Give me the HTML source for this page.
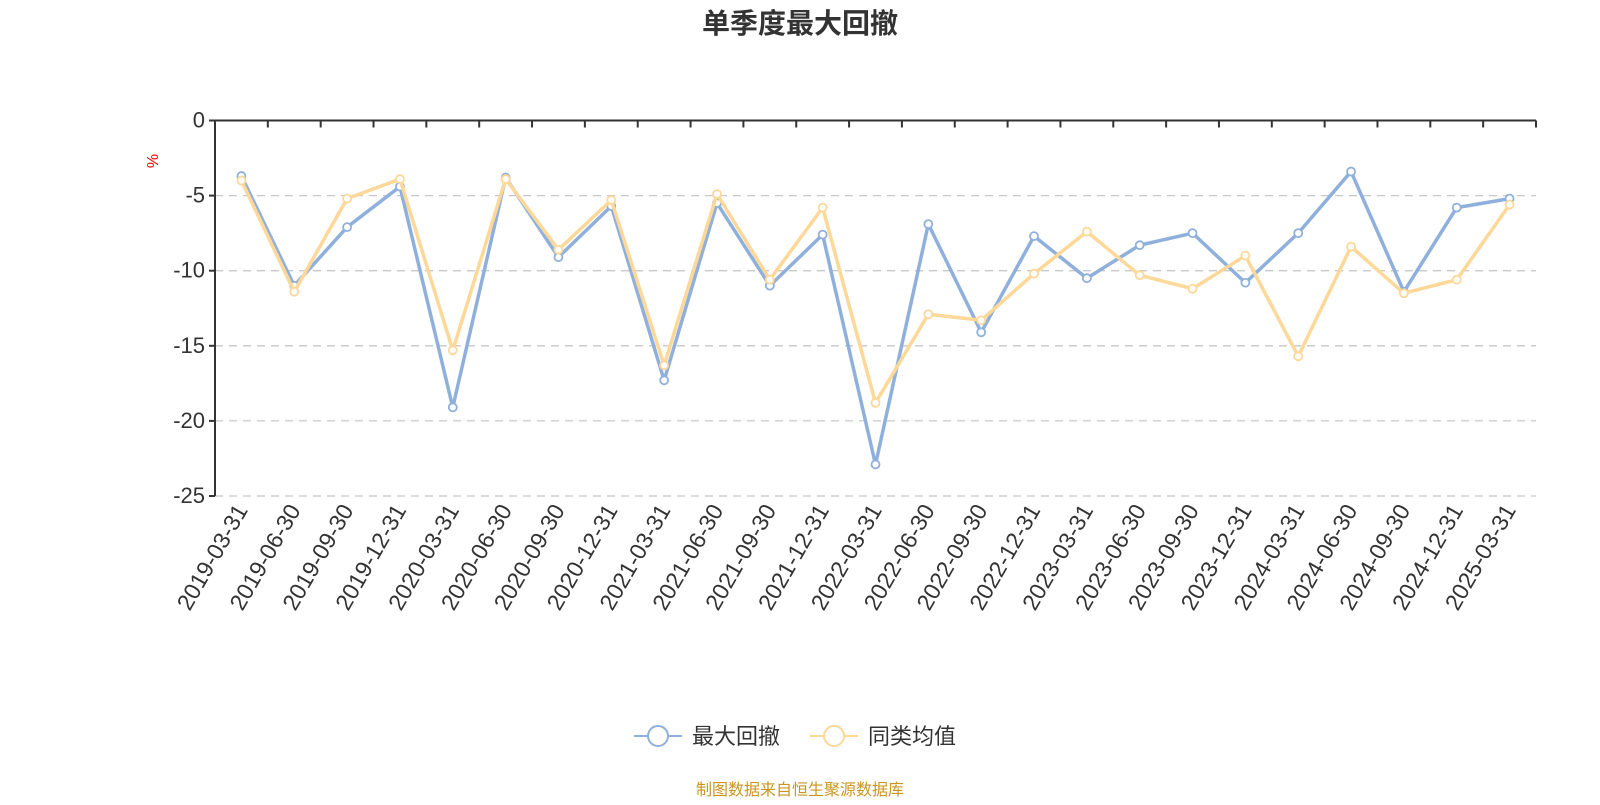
<!DOCTYPE html>
<html><head><meta charset="utf-8"><style>
body{margin:0;background:#fff;width:1600px;height:800px;overflow:hidden;font-family:"Liberation Sans","Noto Sans CJK SC",sans-serif}
</style></head><body>
<svg id="c" width="1600" height="800" font-family="Liberation Sans, Noto Sans CJK SC, sans-serif">
<text x="800" y="33" text-anchor="middle" font-size="28" font-weight="bold" fill="#333">单季度最大回撤</text>
<text transform="translate(158,161) rotate(-90)" text-anchor="middle" font-size="16" fill="#e00">%</text>
<g id="grid"></g><g id="axes"></g><g id="series"></g>
<g>
<g><line x1="634" y1="736" x2="682" y2="736" stroke="#8fb0dc" stroke-width="2"/><circle cx="658" cy="736" r="10" fill="#fff" stroke="#8fb0dc" stroke-width="2"/><text x="692" y="744" font-size="22" fill="#333">最大回撤</text></g>
<g><line x1="810" y1="736" x2="858" y2="736" stroke="#fdd898" stroke-width="2"/><circle cx="834" cy="736" r="10" fill="#fff" stroke="#fdd898" stroke-width="2"/><text x="868" y="744" font-size="22" fill="#333">同类均值</text></g>
</g>
<text x="800" y="795" text-anchor="middle" font-size="16" fill="#c8961e">制图数据来自恒生聚源数据库</text>
</svg>
<script>
const categories=["2019-03-31","2019-06-30","2019-09-30","2019-12-31","2020-03-31","2020-06-30","2020-09-30","2020-12-31","2021-03-31","2021-06-30","2021-09-30","2021-12-31","2022-03-31","2022-06-30","2022-09-30","2022-12-31","2023-03-31","2023-06-30","2023-09-30","2023-12-31","2024-03-31","2024-06-30","2024-09-30","2024-12-31","2025-03-31"];
const maxDrawdown=[-3.7,-11.0,-7.1,-4.4,-19.1,-3.8,-9.1,-5.7,-17.3,-5.5,-11.0,-7.6,-22.9,-6.9,-14.1,-7.7,-10.5,-8.3,-7.5,-10.8,-7.5,-3.4,-11.4,-5.8,-5.2];
const peerAverage=[-4.0,-11.4,-5.2,-3.9,-15.3,-3.9,-8.6,-5.3,-16.3,-4.9,-10.6,-5.8,-18.8,-12.9,-13.3,-10.2,-7.4,-10.3,-11.2,-9.0,-15.7,-8.4,-11.5,-10.6,-5.6];
const yTicks=[0,-5,-10,-15,-20,-25];
const NS="http://www.w3.org/2000/svg";
const L=215,R=1536,T=120.5,B=496;
const bw=(R-L)/categories.length;
const xs=i=>L+bw*(i+0.5);
const ys=v=>T+(0-v)/25*(B-T);
function mk(tag,attrs,parent){const e=document.createElementNS(NS,tag);for(const k in attrs)e.setAttribute(k,attrs[k]);parent.appendChild(e);return e;}
const grid=document.getElementById('grid'),axes=document.getElementById('axes'),series=document.getElementById('series');
yTicks.forEach(v=>{
  if(v!==0){const g=mk('line',{x1:L,x2:R,y1:ys(v),y2:ys(v),stroke:'#c8c8c8','stroke-dasharray':'8,6','stroke-width':1.3},grid);
  
  }
  mk('line',{x1:L-6,x2:L,y1:ys(v),y2:ys(v),stroke:'#333','stroke-width':2},axes);
  const t=mk('text',{x:L-10,y:ys(v)+7,'text-anchor':'end','font-size':22,fill:'#333'},axes);
  t.textContent=v;
  
  
});
mk('line',{x1:L,x2:L,y1:T,y2:B,stroke:'#333','stroke-width':2},axes);
mk('line',{x1:L,x2:R,y1:T,y2:T,stroke:'#333','stroke-width':2},axes);
for(let i=0;i<=categories.length;i++){mk('line',{x1:L+bw*i,x2:L+bw*i,y1:T,y2:T+7,stroke:'#333','stroke-width':2},axes);}
categories.forEach((c,i)=>{
  const t=mk('text',{transform:`translate(${xs(i)+7},${B+14}) rotate(-60)`,'text-anchor':'end','font-size':23,fill:'#333'},axes);
  t.textContent=c;
  
  
});
function draw(data,color,name){
  const p=mk('polyline',{points:data.map((v,i)=>xs(i)+','+ys(v)).join(' '),fill:'none',stroke:color,'stroke-width':3.5,'stroke-linejoin':'round'},series);
  
  
  data.forEach((v,i)=>{const c=mk('circle',{cx:xs(i),cy:ys(v),r:4,fill:'#fff',stroke:color,'stroke-width':1.8},series);
  
  });
}
draw(maxDrawdown,'#8fb0dc','max-drawdown');
draw(peerAverage,'#fdd898','peer-average');
</script>
</body></html>
